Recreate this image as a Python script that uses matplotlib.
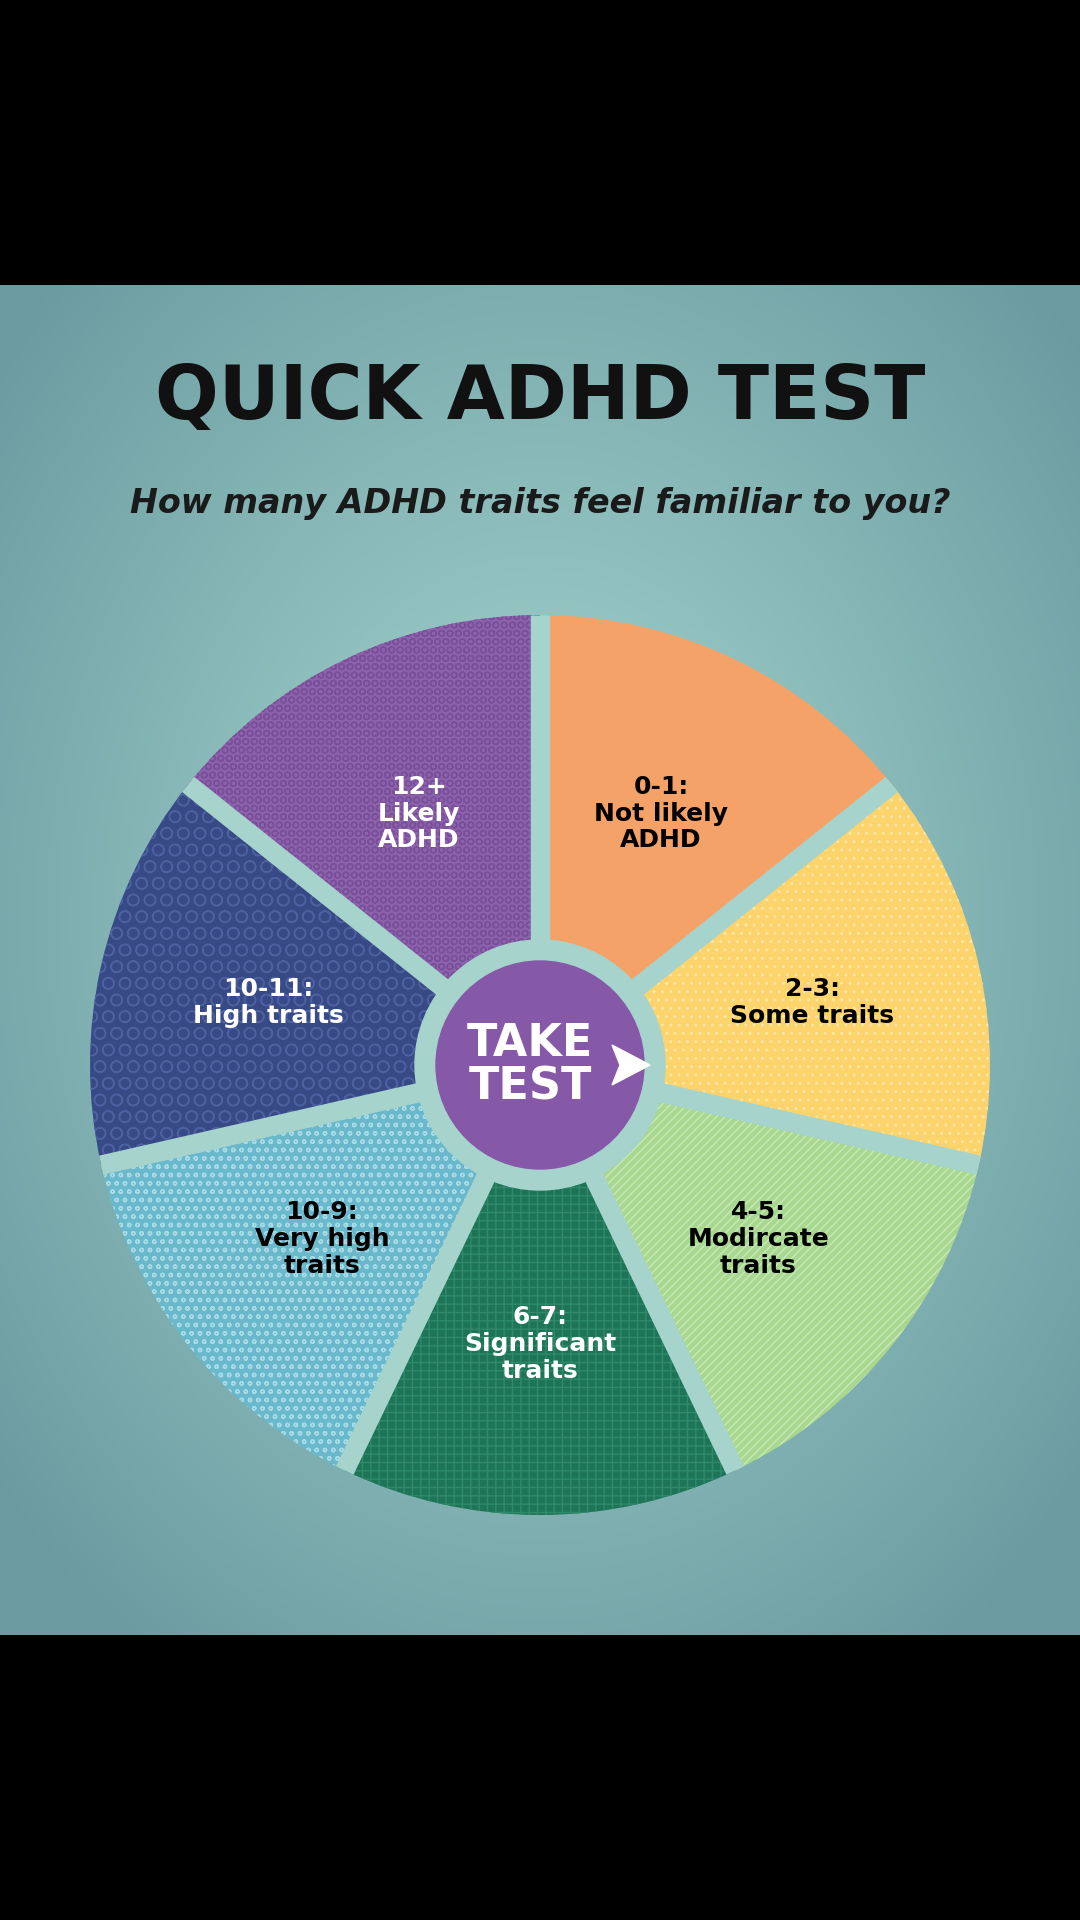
import numpy as np
import matplotlib.pyplot as plt

labels = ["0-1:\nNot likely\nADHD", "2-3:\nSome traits", "4-5:\nModircate\ntraits",
          "6-7:\nSignificant\ntraits", "10-9:\nVery high\ntraits", "10-11:\nHigh traits",
          "12+\nLikely\nADHD"]
shares = [1, 1, 1, 1, 1, 1, 1]
colors = ["#f4a267", "#fdd36b", "#a8d88f", "#1e7457", "#6ab8cc", "#384a86", "#8b62ab"]
hatch_colors = ["#fbc99a", "#fde6a6", "#c8e8b6", "#2e8a6a", "#a6dbe6", "#4d60a0", "#7a4f9a"]
hatches = ["~~", "..", "////", "++", "oo", "O", "OO"]
text_colors = ["black", "black", "black", "white", "black", "white", "white"]

W, H = 1080, 1920
cx, cy, R = 540, 855, 450
gap = "#a6d3cb"
font = ["Liberation Sans Narrow", "DejaVu Sans"]

fig = plt.figure(figsize=(W / 100, H / 100), dpi=100)
fig.patch.set_facecolor("black")
ax = fig.add_axes([0, 0, 1, 1])

# background radial gradient in the teal panel
top, bot = 1635, 285
yy, xx = np.mgrid[bot:top:4, 0:W:4]
d = np.sqrt(((xx - cx) / 700.0) ** 2 + ((yy - 1000) / 900.0) ** 2)
c0 = np.array([0.66, 0.85, 0.82])
c1 = np.array([0.42, 0.61, 0.63])
t = np.clip(d, 0, 1)[..., None]
img = c0 * (1 - t) + c1 * t
ax.imshow(img, extent=[0, W, bot, top], origin="lower", zorder=0, aspect="auto")

# textured wedges
wedges, _ = ax.pie(shares, colors=colors, startangle=90, counterclock=False,
                   center=(cx, cy), radius=R, frame=True,
                   wedgeprops=dict(linewidth=0))
for w, hc, h in zip(wedges, hatch_colors, hatches):
    w.set_hatch(h)
    w.set_edgecolor(hc)
    w.set_linewidth(0)
    w.set_zorder(2)

# radial gaps between wedges
for w in wedges:
    a = np.deg2rad(w.theta1)
    ax.plot([cx, cx + R * np.cos(a)], [cy, cy + R * np.sin(a)],
            color=gap, lw=14, solid_capstyle="butt", zorder=3)

ax.set_xlim(0, W)
ax.set_ylim(0, H)
ax.set_aspect("equal")
ax.axis("off")

ax.add_patch(plt.Circle((cx, cy), 125, color=gap, zorder=4))
ax.add_patch(plt.Circle((cx, cy), 104, color="#8658a8", zorder=5))
ax.text(cx - 10, cy, "TAKE\nTEST", ha="center", va="center", color="white",
        fontsize=32, fontweight="bold", family=font, linespacing=1.0, zorder=6)
ax.add_patch(plt.Polygon([[cx + 72, cy + 20], [cx + 110, cy], [cx + 72, cy - 20], [cx + 80, cy]],
                         color="white", zorder=6))

# labels
step = 360 / len(shares)
for i, (lab, tc) in enumerate(zip(labels, text_colors)):
    ang = np.deg2rad(90 - step * (i + 0.5))
    r = 0.62 * R
    ax.text(cx + r * np.cos(ang), cy + r * np.sin(ang), lab, ha="center", va="center",
            color=tc, fontsize=18, fontweight="bold", linespacing=1.15,
            family=font, zorder=6)

ax.text(W / 2, 1522, "QUICK ADHD TEST", ha="center", va="center", fontsize=54,
        fontweight="bold", family=font, color="#111111")
ax.text(W / 2, 1416, "How many ADHD traits feel familiar to you?", ha="center", va="center",
        fontsize=24, fontstyle="italic", fontweight="bold", family=font, color="#1a1a1a")

fig.savefig("out.png", dpi=100, facecolor="black")
